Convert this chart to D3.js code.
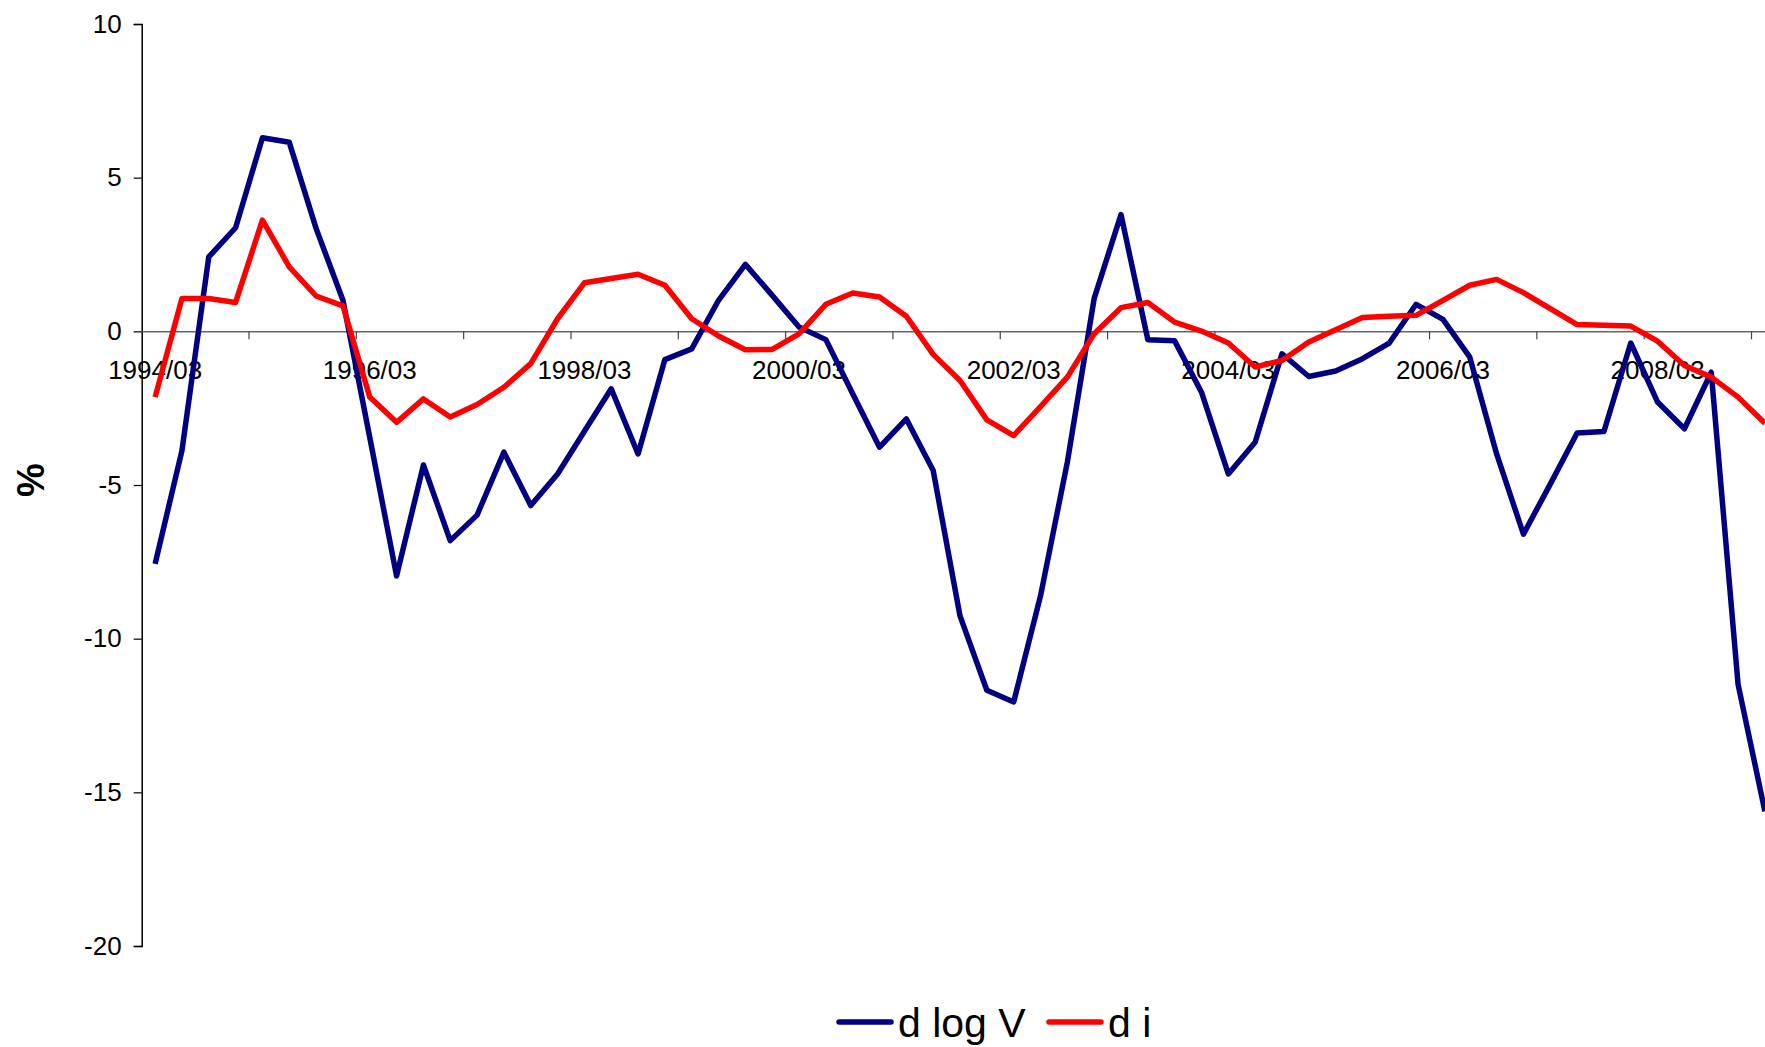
<!doctype html>
<html>
<head>
	<meta charset="utf-8">
	<script src="https://d3js.org/d3.v7.min.js"></script>
	<style>
		body { margin: 0; background: #fff; }
		svg { display: block; font-family: "Liberation Sans", Arial, sans-serif; }
	</style>
</head>
<body>
	<div id="viz">
		<svg width="1765" height="1047"></svg>
	</div>
	<script>

		var quarters = [
			"1994/03","1994/06","1994/09","1994/12","1995/03","1995/06","1995/09","1995/12",
			"1996/03","1996/06","1996/09","1996/12","1997/03","1997/06","1997/09","1997/12",
			"1998/03","1998/06","1998/09","1998/12","1999/03","1999/06","1999/09","1999/12",
			"2000/03","2000/06","2000/09","2000/12","2001/03","2001/06","2001/09","2001/12",
			"2002/03","2002/06","2002/09","2002/12","2003/03","2003/06","2003/09","2003/12",
			"2004/03","2004/06","2004/09","2004/12","2005/03","2005/06","2005/09","2005/12",
			"2006/03","2006/06","2006/09","2006/12","2007/03","2007/06","2007/09","2007/12",
			"2008/03","2008/06","2008/09","2008/12","2009/03"
		];

		// d log V
		var dlogV = [
			-7.57, -3.88, 2.42, 3.37, 6.30, 6.15, 3.35, 1.01,
			-3.45, -7.96, -4.35, -6.81, -5.98, -3.93, -5.67, -4.64,
			-3.25, -1.87, -3.99, -0.92, -0.57, 1.01, 2.18, 1.17,
			0.14, -0.27, -2.03, -3.77, -2.85, -4.53, -9.26, -11.68,
			-12.06, -8.61, -4.26, 1.07, 3.80, -0.27, -0.31, -1.98,
			-4.64, -3.61, -0.73, -1.47, -1.29, -0.89, -0.38, 0.88,
			0.39, -0.84, -3.99, -6.60, -4.97, -3.31, -3.26, -0.38,
			-2.30, -3.17, -1.33, -11.49, -15.62
		];

		// d i
		var di = [
			-2.14, 1.07, 1.07, 0.94, 3.62, 2.10, 1.15, 0.83,
			-2.14, -2.96, -2.20, -2.79, -2.38, -1.82, -1.05, 0.41,
			1.58, 1.72, 1.86, 1.50, 0.41, -0.15, -0.60, -0.59,
			-0.08, 0.88, 1.25, 1.12, 0.49, -0.75, -1.60, -2.88,
			-3.39, -2.45, -1.49, -0.08, 0.77, 0.94, 0.30, 0.01,
			-0.38, -1.16, -0.95, -0.35, 0.05, 0.45, 0.49, 0.52,
			1.01, 1.50, 1.69, 1.26, 0.74, 0.22, 0.20, 0.17,
			-0.32, -1.11, -1.49, -2.14, -2.99
		];

		var yTicks = [-20, -15, -10, -5, 0, 5, 10];
		var xLabels = ["1994/03","1996/03","1998/03","2000/03","2002/03","2004/03","2006/03","2008/03"];

		var series = [
			{name: "d log V", values: dlogV, color: "#000080"},
			{name: "d i", values: di, color: "#ff0000"}
		];

		var plotLeft = 141.7;
		var bandW = 26.83;

		var svg = d3.select("svg");

		var xScale = d3.scaleBand()
			.domain(quarters)
			.range([plotLeft, plotLeft + bandW * quarters.length])
			.padding(0);

		var yScale = d3.scaleLinear()
			.domain([-20, 10])
			.range([946, 24]);

		var xMid = d => xScale(d) + xScale.bandwidth() / 2;

		// y axis
		var yAxis = d3.axisLeft(yScale)
			.tickValues(yTicks)
			.tickFormat(d => String(d))
			.tickSize(8)
			.tickPadding(12);

		var yG = svg.append("g")
			.attr("transform", "translate(" + plotLeft + ",0)")
			.call(yAxis);
		yG.select(".domain").attr("stroke", "#000").attr("stroke-width", 1.5);
		yG.selectAll(".tick line").attr("stroke", "#000").attr("stroke-width", 1.2);
		yG.selectAll("text").attr("font-size", 26).attr("fill", "#000")
			.attr("font-family", "'Liberation Sans', Arial, sans-serif");

		// x axis at zero
		var xAxis = d3.axisBottom(xScale)
			.tickValues(xLabels)
			.tickSize(0)
			.tickPadding(29)
			.tickSizeOuter(0);

		var xG = svg.append("g")
			.attr("transform", "translate(0," + yScale(0) + ")")
			.call(xAxis);
		xG.select(".domain").attr("stroke", "#666").attr("stroke-width", 1.5);
		xG.selectAll("text").attr("font-size", 26).attr("fill", "#000")
			.attr("font-family", "'Liberation Sans', Arial, sans-serif");

		// tick marks between categories, every 4 quarters
		svg.append("g")
			.selectAll("line")
			.data(quarters.filter((q, i) => i > 0 && i % 4 === 0))
			.enter()
			.append("line")
				.attr("x1", d => xScale(d))
				.attr("x2", d => xScale(d))
				.attr("y1", yScale(0))
				.attr("y2", yScale(0) + 8)
				.attr("stroke", "#444")
				.attr("stroke-width", 1.2);

		// lines
		var line = d3.line()
			.x((v, i) => xMid(quarters[i]))
			.y(v => yScale(v));

		svg.append("g")
			.selectAll("path")
			.data(series)
			.enter()
			.append("path")
				.attr("d", d => line(d.values))
				.attr("fill", "none")
				.attr("stroke", d => d.color)
				.attr("stroke-width", 5.5)
				.attr("stroke-linejoin", "round");

		// y title
		svg.append("text")
			.attr("transform", "translate(44,480) rotate(-90)")
			.attr("text-anchor", "middle")
			.attr("font-size", 38)
			.attr("font-weight", "bold")
			.text("%");

		// legend
		var legendX = [839, 1049];
		var leg = svg.append("g")
			.selectAll("g")
			.data(series)
			.enter()
			.append("g")
				.attr("transform", (d, i) => "translate(" + legendX[i] + ",1022)");
		leg.append("line")
			.attr("x1", 0).attr("x2", 52)
			.attr("stroke", d => d.color)
			.attr("stroke-width", 5.5)
			.attr("stroke-linecap", "round");
		leg.append("text")
			.attr("x", 59)
			.attr("y", 15)
			.attr("font-size", 41)
			.text(d => d.name);

	</script>
</body>
</html>
